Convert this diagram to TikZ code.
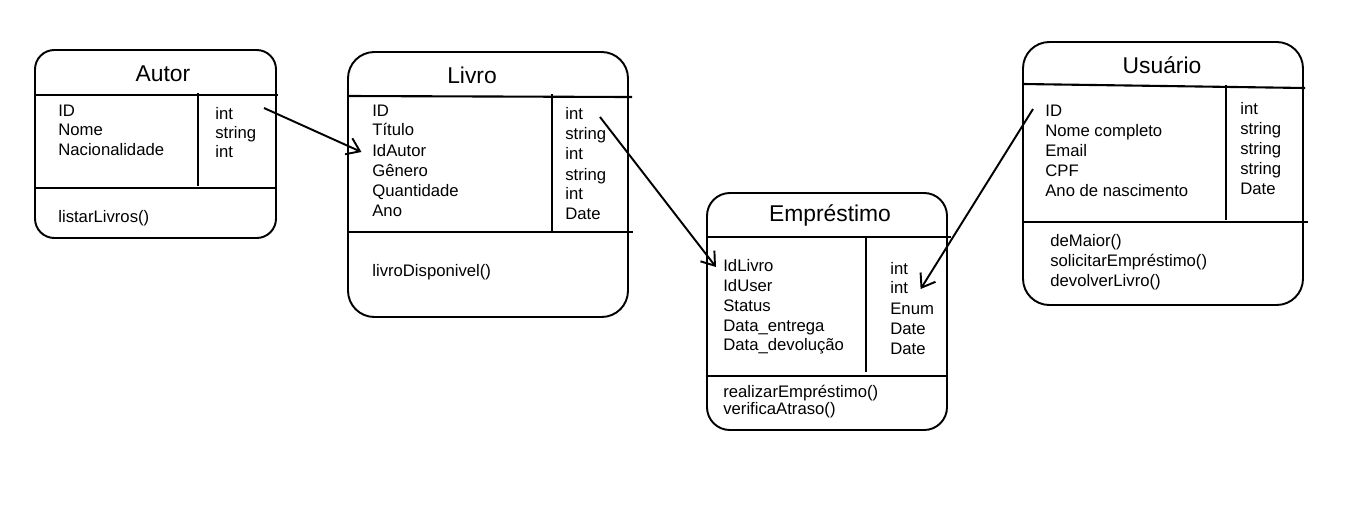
\documentclass[tikz,border=0pt]{standalone}
\usepackage{fontspec}
\setmainfont{Liberation Sans}
\usetikzlibrary{arrows.meta}

\begin{document}
\begin{tikzpicture}[x=0.02cm,y=-0.02cm,
  caixa/.style={line width=1.1pt,rounded corners=11pt},
  divisa/.style={line width=1.2pt},
  titulo/.style={inner sep=0pt,font=\fontsize{13}{15}\selectfont},
  campo/.style={anchor=west,inner sep=0pt,text height=7pt,text depth=2pt,font=\fontsize{9.5}{11}\selectfont},
  seta/.style={line width=1.1pt,-{Straight Barb[length=7pt,width=10pt]}}]
\useasboundingbox (0,0) rectangle (1363,522);
\fill[white] (0,0) rectangle (1363,522);
\draw[caixa] (35,50) rectangle (276,238);
\draw[divisa] (35,95) -- (278,95);
\draw[divisa] (198,93) -- (198,186);
\draw[divisa] (35,188) -- (276,188);
\node[titulo] (autor) at (163,74) {Autor};
\node[campo] (autorA1) at (58,112) {ID};
\node[campo] (autorA2) at (58,131) {Nome};
\node[campo] (autorA3) at (58,151) {Nacionalidade};
\node[campo] (autorT1) at (215,115) {int};
\node[campo] (autorT2) at (215,134) {string};
\node[campo] (autorT3) at (215,153) {int};
\node[campo] (autorM1) at (58,218) {listarLivros()};
\draw[caixa,rounded corners=15pt] (348,52) rectangle (628,317);
\draw[divisa] (348,96) -- (632,97);
\draw[divisa] (552,94) -- (552,232);
\draw[divisa] (348,232) -- (633,232);
\node[titulo] (livro) at (472,75) {Livro};
\node[campo] (livroA1) at (372,112) {ID};
\node[campo] (livroA2) at (372,131) {Título};
\node[campo] (livroA3) at (372,152) {IdAutor};
\node[campo] (livroA4) at (372,172) {Gênero};
\node[campo] (livroA5) at (372,192) {Quantidade};
\node[campo] (livroA6) at (372,212) {Ano};
\node[campo] (livroT1) at (565,115) {int};
\node[campo] (livroT2) at (565,135) {string};
\node[campo] (livroT3) at (565,155) {int};
\node[campo] (livroT4) at (565,176) {string};
\node[campo] (livroT5) at (565,195) {int};
\node[campo] (livroT6) at (565,215) {Date};
\node[campo] (livroM1) at (372,272) {livroDisponivel()};
\draw[caixa,rounded corners=13pt] (707,193) rectangle (947,430);
\draw[divisa] (707,237) -- (951,237);
\draw[divisa] (866,237) -- (866,372);
\draw[divisa] (707,376) -- (947,376);
\node[titulo] (emprestimo) at (830,215) {Empréstimo};
\node[campo] (empA1) at (723,267) {IdLivro};
\node[campo] (empA2) at (723,287) {IdUser};
\node[campo] (empA3) at (723,307) {Status};
\node[campo] (empA4) at (723,327) {Data\_entrega};
\node[campo] (empA5) at (723,346) {Data\_devolução};
\node[campo] (empT1) at (890,270) {int};
\node[campo] (empT2) at (890,289) {int};
\node[campo] (empT3) at (890,310) {Enum};
\node[campo] (empT4) at (890,330) {Date};
\node[campo] (empT5) at (890,350) {Date};
\node[campo] (empM1) at (723,393) {realizarEmpréstimo()};
\node[campo] (empM2) at (723,410) {verificaAtraso()};
\draw[caixa,rounded corners=15pt] (1023,42) rectangle (1303,305);
\draw[divisa] (1023,84) -- (1305,88);
\draw[divisa] (1226,85) -- (1226,220);
\draw[divisa] (1023,222) -- (1308,222);
\node[titulo] (usuario) at (1162,65) {Usuário};
\node[campo] (usuA1) at (1045,112) {ID};
\node[campo] (usuA2) at (1045,132) {Nome completo};
\node[campo] (usuA3) at (1045,152) {Email};
\node[campo] (usuA4) at (1045,172) {CPF};
\node[campo] (usuA5) at (1045,192) {Ano de nascimento};
\node[campo] (usuT1) at (1240,110) {int};
\node[campo] (usuT2) at (1240,130) {string};
\node[campo] (usuT3) at (1240,150) {string};
\node[campo] (usuT4) at (1240,170) {string};
\node[campo] (usuT5) at (1240,190) {Date};
\node[campo] (usuM1) at (1050,242) {deMaior()};
\node[campo] (usuM2) at (1050,262) {solicitarEmpréstimo()};
\node[campo] (usuM3) at (1050,282) {devolverLivro()};
\coordinate (autorSai) at (264,108);
\coordinate (livroSai) at (600,117);
\coordinate (usuarioSai) at (1033,109);
\draw[seta] (autorSai) -- ([xshift=-6pt]livroA3.west);
\draw[seta] (livroSai) -- ([xshift=-4pt]empA1.west);
\draw[seta] (usuarioSai) -- ([xshift=7pt]empT2.east);
\end{tikzpicture}
\end{document}
